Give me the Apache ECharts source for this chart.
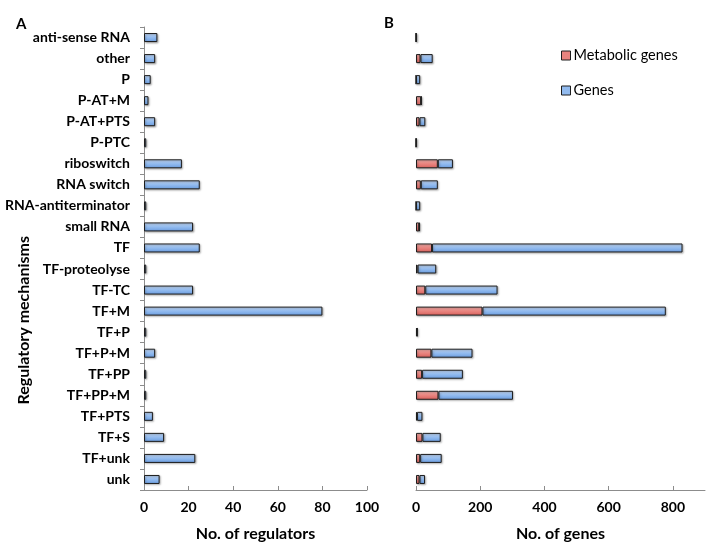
<!DOCTYPE html>
<html>
<head>
<meta charset="utf-8">
<script src="https://cdn.jsdelivr.net/npm/echarts@6/dist/echarts.min.js"></script>
<style>
html, body { margin: 0; padding: 0; background: #fff; }
#chart_container { width: 708px; height: 547px; }
</style>
</head>
<body>
<div id="chart_container"></div>
<script>
var categories = ['anti-sense RNA', 'other', 'P', 'P-AT+M', 'P-AT+PTS', 'P-PTC', 'riboswitch',
    'RNA switch', 'RNA-antiterminator', 'small RNA', 'TF', 'TF-proteolyse', 'TF-TC', 'TF+M',
    'TF+P', 'TF+P+M', 'TF+PP', 'TF+PP+M', 'TF+PTS', 'TF+S', 'TF+unk', 'unk'];
// panel A
var regulators = [6, 5, 3, 2, 5, 1, 17, 25, 1, 22, 25, 1, 22, 80, 1, 5, 1, 1, 4, 9, 23, 7];
// panel B
var metabolicGenes = [0, 14, 0, 16, 11, 0, 68, 15, 0, 10, 50, 5, 29, 207, 3, 48, 19, 70, 3, 20, 13, 11];
var totalGenes = [2, 52, 13, 17, 29, 2, 115, 68, 13, 12, 830, 63, 254, 778, 5, 176, 146, 302, 20, 77, 80, 28];
var regTicks = [0, 20, 40, 60, 80, 100];
var geneTicks = [0, 200, 400, 600, 800];

var otherGenes = [];
for (var i = 0; i < totalGenes.length; i++) {
    otherGenes.push(totalGenes[i] - metabolicGenes[i]);
}

var dom = document.getElementById("chart_container");
var myChart = echarts.init(dom);
var option = null;

var font = 'Lato, "Open Sans", sans-serif';

var blueFill = new echarts.graphic.LinearGradient(0, 0, 0, 1, [
    {offset: 0, color: '#c9ddf8'},
    {offset: 0.5, color: '#92bbef'},
    {offset: 1, color: '#6a9cdf'}
]);
var redFill = new echarts.graphic.LinearGradient(0, 0, 0, 1, [
    {offset: 0, color: '#f5b3ae'},
    {offset: 0.5, color: '#e9847f'},
    {offset: 1, color: '#d8615c'}
]);
var barStyle = function (fill) {
    return {
        color: fill,
        borderColor: '#1e1e1e',
        borderWidth: 1,
        shadowColor: 'rgba(0,0,0,0.3)',
        shadowBlur: 2,
        shadowOffsetX: 1,
        shadowOffsetY: 1
    };
};

option = {
    animation: false,
    textStyle: { fontFamily: font },
    title: [
        { text: 'A', left: 11, top: 12, textStyle: { fontSize: 15, fontWeight: 'bold', color: '#000', fontFamily: font } },
        { text: 'B', left: 379, top: 11, textStyle: { fontSize: 15, fontWeight: 'bold', color: '#000', fontFamily: font } }
    ],
    legend: {
        orient: 'vertical',
        left: 556,
        top: 43,
        itemWidth: 9,
        itemHeight: 9,
        itemGap: 20,
        icon: 'rect',
        data: [
            { name: 'Metabolic genes', itemStyle: { color: '#e8837e', borderColor: '#1e1e1e', borderWidth: 1 } },
            { name: 'Genes', itemStyle: { color: '#92bbef', borderColor: '#1e1e1e', borderWidth: 1 } }
        ],
        textStyle: { fontSize: 14.5, color: '#000', fontFamily: font, padding: [0, 0, 0, -2] }
    },
    graphic: [{
        type: 'text',
        left: 16,
        top: 236,
        rotation: Math.PI / 2,
        style: {
            text: 'Regulatory mechanisms',
            font: 'bold 16px ' + font,
            fill: '#000'
        }
    }],
    grid: [
        { left: 144, top: 27, width: 223, height: 467 },
        { left: 416, top: 27, width: 289, height: 467 }
    ],
    xAxis: [{
        gridIndex: 0,
        type: 'value',
        min: 0,
        max: 100,
        interval: 20,
        name: 'No. of regulators',
        nameLocation: 'middle',
        nameGap: 36,
        nameTextStyle: { fontSize: 16, fontWeight: 'bold', color: '#000', fontFamily: font },
        splitLine: { show: false },
        axisLine: { show: true, lineStyle: { color: '#8c8c8c' } },
        axisTick: { show: true, inside: true, length: 4, lineStyle: { color: '#8c8c8c' }, customValues: regTicks },
        axisLabel: { fontSize: 14, fontWeight: 'bold', color: '#000', margin: 10, fontFamily: font, customValues: regTicks }
    }, {
        gridIndex: 1,
        type: 'value',
        min: 0,
        max: 900,
        interval: 200,
        name: 'No. of genes',
        nameLocation: 'middle',
        nameGap: 36,
        nameTextStyle: { fontSize: 16, fontWeight: 'bold', color: '#000', fontFamily: font },
        splitLine: { show: false },
        axisLine: { show: true, lineStyle: { color: '#8c8c8c' } },
        axisTick: { show: true, inside: true, length: 4, lineStyle: { color: '#8c8c8c' }, customValues: geneTicks },
        axisLabel: { fontSize: 14, fontWeight: 'bold', color: '#000', margin: 10, fontFamily: font, customValues: geneTicks }
    }],
    yAxis: [{
        gridIndex: 0,
        type: 'category',
        inverse: true,
        data: categories,
        axisLine: { show: true, lineStyle: { color: '#8c8c8c' } },
        axisTick: { show: true, length: 4, lineStyle: { color: '#8c8c8c' } },
        axisLabel: { fontSize: 14, fontWeight: 'bold', color: '#000', margin: 14, fontFamily: font }
    }, {
        gridIndex: 1,
        type: 'category',
        inverse: true,
        data: categories,
        axisLine: { show: false },
        axisTick: { show: false },
        axisLabel: { show: false }
    }],
    series: [{
        name: 'No. of regulators',
        type: 'bar',
        xAxisIndex: 0,
        yAxisIndex: 0,
        barWidth: 9,
        itemStyle: barStyle(blueFill),
        data: regulators
    }, {
        name: 'Metabolic genes',
        type: 'bar',
        stack: 'genes',
        xAxisIndex: 1,
        yAxisIndex: 1,
        barWidth: 9,
        itemStyle: barStyle(redFill),
        data: metabolicGenes
    }, {
        name: 'Genes',
        type: 'bar',
        stack: 'genes',
        xAxisIndex: 1,
        yAxisIndex: 1,
        barWidth: 9,
        itemStyle: barStyle(blueFill),
        data: otherGenes
    }]
};

if (option && typeof option === "object") {
    myChart.setOption(option, true);
}
</script>
</body>
</html>
